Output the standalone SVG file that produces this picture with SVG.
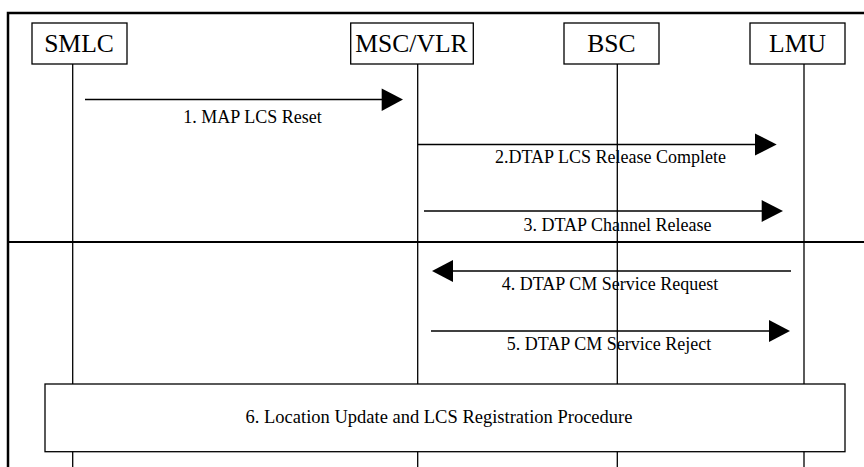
<svg xmlns="http://www.w3.org/2000/svg" width="864" height="467" viewBox="0 0 864 467">
<style>
  .frame { stroke: #000; stroke-width: 2.5; fill: none; }
  .box { fill: #fff; stroke: #000; stroke-width: 1.3; }
  .life { stroke: #000; stroke-width: 1.3; }
  .msg { stroke: #000; stroke-width: 1.3; fill: none; }
  .head { fill: #000; stroke: none; }
  text { font-family: 'Liberation Serif', 'Times New Roman', serif; fill: #000; text-anchor: middle; }
  .name { font-size: 25.6px; }
  .lbl { font-size: 18px; }
  .big { font-size: 18.5px; }
</style>
<rect width="864" height="467" fill="#fff"/>
<g id="frame">
  <path class="frame" d="M8,467 V13 H864"/>
  <line x1="8" y1="242" x2="864" y2="242" stroke="#000" stroke-width="2.2"/>
</g>
<g id="lifelines">
  <line class="life" x1="72.7" y1="64" x2="72.7" y2="467"/>
  <line class="life" x1="417.7" y1="64" x2="417.7" y2="467"/>
  <line class="life" x1="617.3" y1="64" x2="617.3" y2="467"/>
  <line class="life" x1="804" y1="64" x2="804" y2="467"/>
</g>
<g id="SMLC">
  <rect class="box" x="32" y="23" width="95" height="41"/>
  <text class="name" x="79" y="52">SMLC</text>
</g>
<g id="MSCVLR">
  <rect class="box" x="350.7" y="23" width="122.6" height="41"/>
  <text class="name" x="411.5" y="52">MSC/VLR</text>
</g>
<g id="BSC">
  <rect class="box" x="564" y="23" width="95" height="41"/>
  <text class="name" x="611.5" y="52">BSC</text>
</g>
<g id="LMU">
  <rect class="box" x="750" y="23" width="95" height="41"/>
  <text class="name" x="797.5" y="52">LMU</text>
</g>
<g id="connectors">
  <line class="msg" x1="85" y1="99.5" x2="383" y2="99.5"/>
  <polygon class="head" points="381.7,88.5 403,99.5 381.7,111"/>
  <line class="msg" x1="418" y1="144.5" x2="757" y2="144.5"/>
  <polygon class="head" points="755,133.5 776.7,144.5 755,155.5"/>
  <line class="msg" x1="424" y1="211" x2="763" y2="211"/>
  <polygon class="head" points="761.7,200 783,211 761.7,222"/>
  <line class="msg" x1="451" y1="271" x2="791" y2="271"/>
  <polygon class="head" points="453,260 432,271 453,282"/>
  <line class="msg" x1="431" y1="331" x2="771" y2="331"/>
  <polygon class="head" points="769,320 790,331 769,342"/>
</g>
<g id="labels">
  <text class="lbl" x="252.5" y="122.7">1. MAP LCS Reset</text>
  <text class="lbl" x="610.5" y="163.3">2.DTAP LCS Release Complete</text>
  <text class="lbl" x="617.5" y="231">3. DTAP Channel Release</text>
  <text class="lbl" x="610" y="290">4. DTAP CM Service Request</text>
  <text class="lbl" x="609" y="350">5. DTAP CM Service Reject</text>
</g>
<g id="procedure">
  <rect class="box" x="45" y="384" width="800" height="67.7"/>
  <text class="lbl big" x="439" y="423">6. Location Update and LCS Registration Procedure</text>
</g>
</svg>
